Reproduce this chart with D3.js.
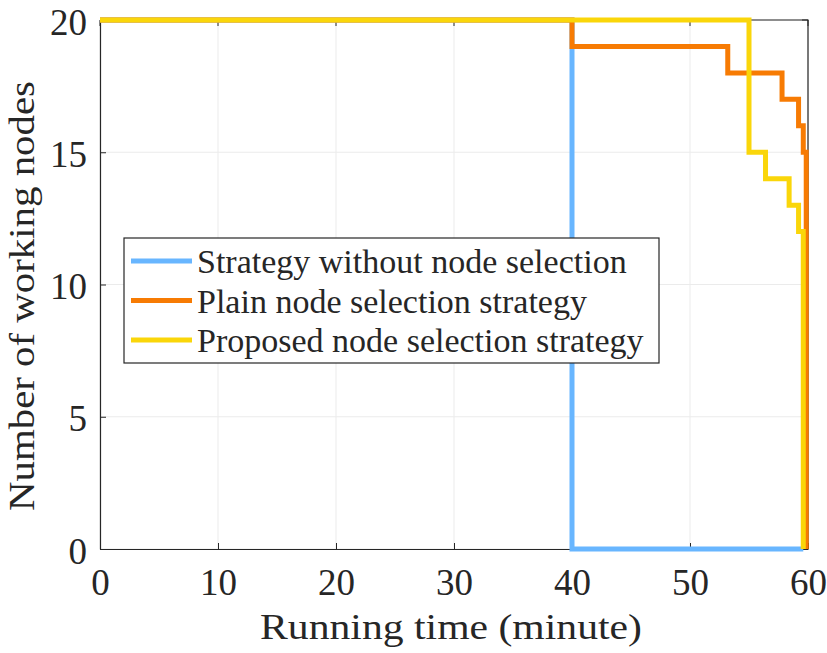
<!DOCTYPE html>
<html><head><meta charset="utf-8">
<script src="https://cdn.jsdelivr.net/npm/d3@7/dist/d3.min.js"></script>
<style>body{margin:0;background:#fff}svg{display:block}</style>
</head><body><svg id="c" width="827" height="653"></svg>
<script>
const seriesNames = ["Strategy without node selection","Plain node selection strategy","Proposed node selection strategy"];
const seriesColors = ["#68b6ff","#f77b03","#fad60a"];
const blueT = [0, 40, 59.6];
const blueV = [20, 0, 0];
const orangeT = [0, 40, 53.2, 57.8, 59.2, 59.6, 59.85, 59.85];
const orangeV = [20, 19, 18, 17, 16, 15, 0, 0];
const yellowT = [0, 55, 56.4, 58.4, 59.2, 59.6, 59.6];
const yellowV = [20, 15, 14, 13, 12, 0, 0];
const xTicks = [0,10,20,30,40,50,60];
const yTicks = [0,5,10,15,20];

const svg = d3.select("#c");
const L=100, R=808, T=20, B=549;
const x = d3.scaleLinear().domain([0,60]).range([L,R]);
const y = d3.scaleLinear().domain([0,20]).range([B,T]);
const font = "'Liberation Serif','Times New Roman',serif";
const ink = "#262626";

// grid
svg.append("g").selectAll("line").data(xTicks).join("line")
  .attr("x1",d=>x(d)).attr("x2",d=>x(d)).attr("y1",T).attr("y2",B)
  .attr("stroke","#ebebeb").attr("stroke-width",1);
svg.append("g").selectAll("line").data(yTicks).join("line")
  .attr("x1",L).attr("x2",R).attr("y1",d=>y(d)).attr("y2",d=>y(d))
  .attr("stroke","#ebebeb").attr("stroke-width",1);

// box top/right
svg.append("path").attr("d",`M${L},${T}H${R}V${B}`).attr("fill","none").attr("stroke",ink).attr("stroke-width",1.2);

// axes
const xa = svg.append("g").attr("transform",`translate(0,${B})`)
  .call(d3.axisBottom(x).tickValues(xTicks).tickSizeInner(-6).tickSizeOuter(0));
const ya = svg.append("g").attr("transform",`translate(${L},0)`)
  .call(d3.axisLeft(y).tickValues(yTicks).tickSizeInner(-6).tickSizeOuter(0));
[xa,ya].forEach(a=>{
  a.select(".domain").attr("stroke",ink).attr("stroke-width",1.2);
  a.selectAll(".tick line").attr("stroke",ink);
  a.selectAll("text").attr("font-family",font).attr("font-size",37).attr("fill",ink);
});
xa.selectAll("text").attr("y",46).attr("dy",null);
ya.selectAll("text").attr("x",-13).attr("dy",14);
// top/right ticks
svg.append("g").selectAll("line").data(xTicks).join("line")
  .attr("x1",d=>x(d)).attr("x2",d=>x(d)).attr("y1",T).attr("y2",T+6).attr("stroke",ink);
svg.append("g").selectAll("line").data(yTicks).join("line")
  .attr("x1",R-6).attr("x2",R).attr("y1",d=>y(d)).attr("y2",d=>y(d)).attr("stroke",ink);

// lines
const line = d3.line().x(d=>x(d[0])).y(d=>y(d[1])).curve(d3.curveStepAfter);
const data = [
  d3.zip(blueT, blueV),
  d3.zip(orangeT, orangeV),
  d3.zip(yellowT, yellowV)
];
data.forEach((d,i)=>{
  svg.append("path").datum(d).attr("d",line).attr("fill","none")
    .attr("stroke",seriesColors[i]).attr("stroke-width",5).attr("stroke-linejoin","miter").attr("stroke-linecap","butt");
});

// axis titles
svg.append("text").attr("x",451).attr("y",639).attr("text-anchor","middle")
  .attr("font-family",font).attr("font-size",36).attr("fill",ink)
  .attr("textLength",382).attr("lengthAdjust","spacingAndGlyphs").text("Running time (minute)");
svg.append("text").attr("transform",`translate(34,296) rotate(-90)`).attr("text-anchor","middle")
  .attr("font-family",font).attr("font-size",36).attr("fill",ink)
  .attr("textLength",430).attr("lengthAdjust","spacingAndGlyphs").text("Number of working nodes");

// legend
const lg = svg.append("g");
lg.append("rect").attr("x",124).attr("y",238).attr("width",535).attr("height",125)
  .attr("fill","#fff").attr("stroke",ink).attr("stroke-width",1.2);
seriesNames.forEach((n,i)=>{
  const yy = 261 + i*39.5;
  lg.append("line").attr("x1",131).attr("x2",192).attr("y1",yy).attr("y2",yy)
    .attr("stroke",seriesColors[i]).attr("stroke-width",5);
  lg.append("text").attr("x",197).attr("y",yy+12).attr("font-family",font).attr("font-size",34)
    .attr("fill",ink).text(n);
});
</script></body></html>
